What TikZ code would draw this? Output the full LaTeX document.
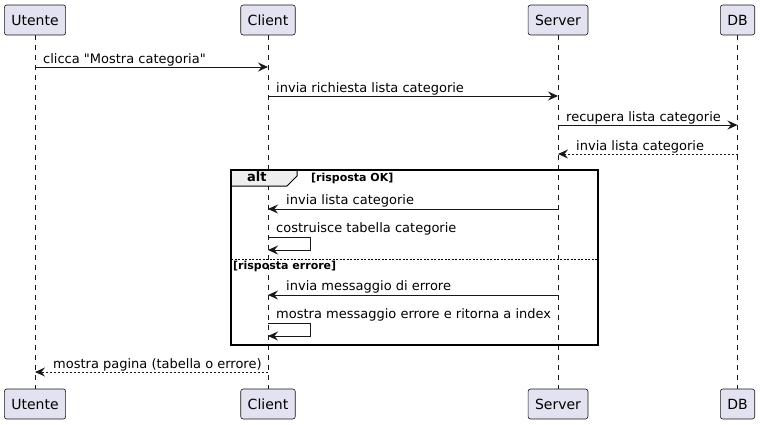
\documentclass[tikz,border=0pt]{standalone}
\usepackage{fontspec}
\setmainfont{DejaVu Sans}
\newfontfamily\umlfont{DejaVu Sans}
\usepackage{tikz}
\usetikzlibrary{arrows.meta}
\usetikzlibrary{positioning}
\definecolor{partfill}{HTML}{E2E2F0}
\definecolor{partline}{HTML}{181818}
\definecolor{tabfill}{HTML}{EEEEEE}
\tikzset{
	participant/.style={draw=partline, fill=partfill, line width=0.6pt, rounded corners=2.5pt,
		minimum height=30pt, inner xsep=7pt, font=\umlfont\fontsize{14}{16}\selectfont},
	lifeline/.style={draw=partline, line width=0.5pt, dash pattern=on 5pt off 5pt},
	message/.style={draw=partline, line width=1pt, -{Stealth[length=10pt,width=9pt,inset=3.5pt]}},
	reply/.style={message, dash pattern=on 2pt off 2pt},
	msglabel/.style={anchor=base west, inner sep=0pt, font=\umlfont\fontsize{13}{15}\selectfont},
	guard/.style={anchor=base west, inner sep=0pt, font=\umlfont\fontsize{11}{13}\selectfont\bfseries},
	altframe/.style={draw=black, line width=1.5pt},
	alttab/.style={draw=black, fill=tabfill, line width=1pt},
	separator/.style={draw=black, line width=0.7pt, dash pattern=on 2pt off 1.5pt},
}

\begin{document}
\begin{tikzpicture}[x=1pt, y=-1pt]
	\useasboundingbox (0,0) rectangle (760,424);
	% participants
	\node[participant] (uTop) at (35,20) {Utente};
	\node[participant] (cTop) at (268,20) {Client};
	\node[participant] (sTop) at (558,20) {Server};
	\node[participant] (dTop) at (737.5,20) {DB};
	\node[participant] (uBot) at (35,404) {Utente};
	\node[participant] (cBot) at (268,404) {Client};
	\node[participant] (sBot) at (558,404) {Server};
	\node[participant] (dBot) at (737.5,404) {DB};
	\draw[lifeline] (uTop) -- (uBot);
	\draw[lifeline] (cTop) -- (cBot);
	\draw[lifeline] (sTop) -- (sBot);
	\draw[lifeline] (dTop) -- (dBot);
	% requests
	\path (uTop |- 0,67) coordinate (m1a) (cTop |- 0,67) coordinate (m1b);
	\draw[message] (m1a) -- (m1b);
	\node[msglabel] (l1) at (43,63) {clicca "Mostra categoria"};
	\path (cTop |- 0,96) coordinate (m2a) (sTop |- 0,96) coordinate (m2b);
	\draw[message] (m2a) -- (m2b);
	\node[msglabel] (l2) at (276,92) {invia richiesta lista categorie};
	\path (sTop |- 0,125) coordinate (m3a) (dTop |- 0,125) coordinate (m3b);
	\draw[message] (m3a) -- (m3b);
	\node[msglabel] (l3) at (566,121) {recupera lista categorie};
	\path (dTop |- 0,154) coordinate (m4a) (sTop |- 0,154) coordinate (m4b);
	\draw[reply] (m4a) -- (m4b);
	\node[msglabel] (l4) at (576,150) {invia lista categorie};
	% alt frame
	\coordinate (frNW) at (231,170);
	\coordinate (frSE) at (598,345);
	\filldraw[alttab] (frNW) -- (297,170) -- (297,176) -- (287,186) -- (frNW |- 0,186) -- cycle;
	\draw[altframe] (frNW) rectangle (frSE);
	\node[guard, font=\umlfont\fontsize{13}{15}\selectfont\bfseries] (altl) at (247,181.5) {alt};
	\node[guard] (g1) at (311,181) {[risposta OK]};
	\path (sTop |- 0,209) coordinate (m5a) (cTop |- 0,209) coordinate (m5b);
	\draw[message] (m5a) -- (m5b);
	\node[msglabel] (l5) at (286,204) {invia lista categorie};
	\path (cTop |- 0,237) coordinate (s1a) (cTop |- 0,250) coordinate (s1b);
	\draw[message] (s1a) -- ++(42,0) |- (s1b);
	\node[msglabel] (l6) at (276,232.5) {costruisce tabella categorie};
	\draw[separator] (frNW |- 0,259) -- (frSE |- 0,259);
	\node[guard] (g2) at (233,269) {[risposta errore]};
	\path (sTop |- 0,295) coordinate (m7a) (cTop |- 0,295) coordinate (m7b);
	\draw[message] (m7a) -- (m7b);
	\node[msglabel] (l7) at (286,290) {invia messaggio di errore};
	\path (cTop |- 0,323) coordinate (s2a) (cTop |- 0,336) coordinate (s2b);
	\draw[message] (s2a) -- ++(42,0) |- (s2b);
	\node[msglabel] (l8) at (276,318.5) {mostra messaggio errore e ritorna a index};
	% answer
	\path (cTop |- 0,372) coordinate (m9a) (uTop |- 0,372) coordinate (m9b);
	\draw[reply] (m9a) -- (m9b);
	\node[msglabel] (l9) at (53,368) {mostra pagina (tabella o errore)};
\end{tikzpicture}
\end{document}
